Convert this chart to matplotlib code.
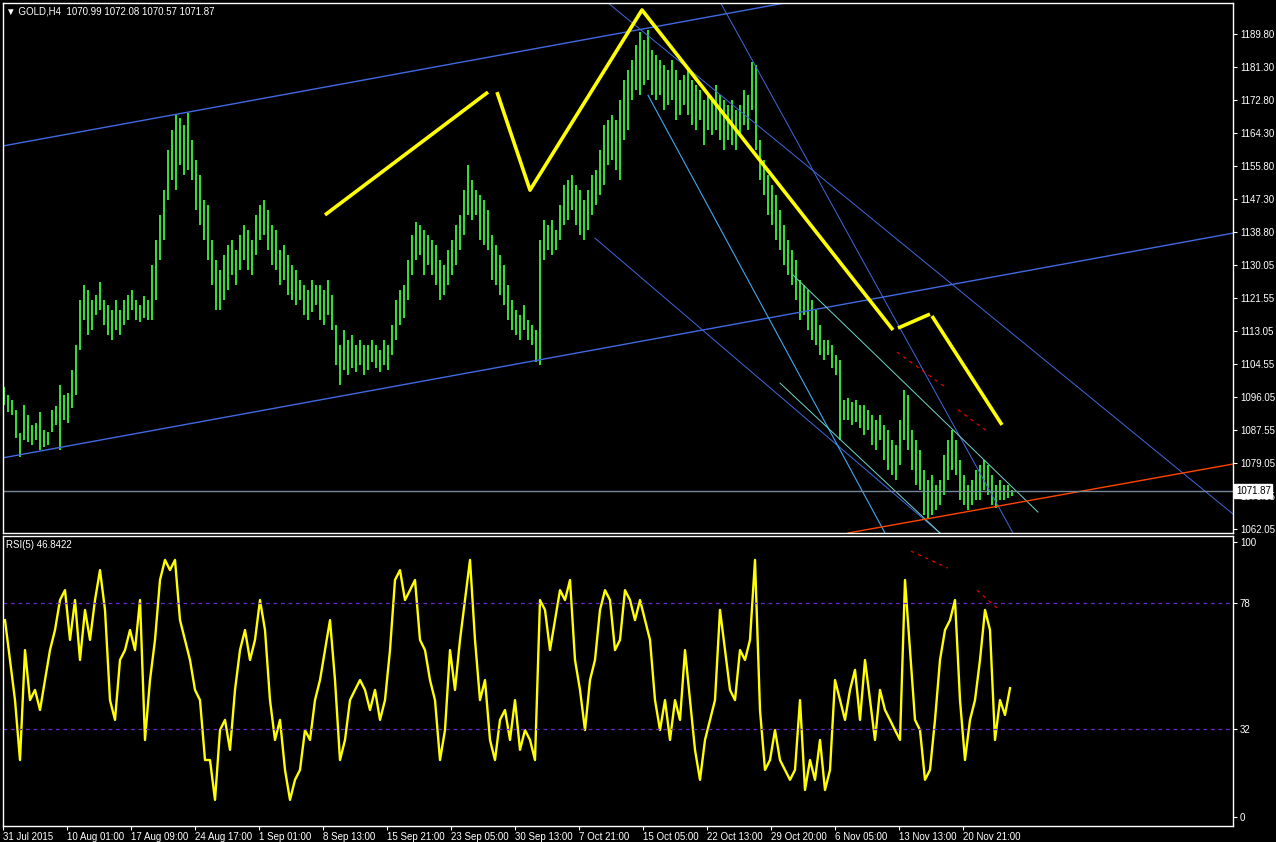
import numpy as np
import matplotlib.pyplot as plt

plt.rcParams['font.family'] = ['Liberation Sans', 'DejaVu Sans']

# H4 bars, one sample every 2 bars (high / low)
highs = [1098.7, 1096.7, 1095.4, 1092.8, 1086.8, 1094.1, 1091.5, 1088.9, 1089.4, 1092.3,
         1087.6, 1087.1, 1092.8, 1093.8, 1099.2, 1096.7, 1097.2, 1103.1, 1109.6, 1121.2,
         1125.0, 1123.8, 1121.2, 1122.5, 1125.8, 1121.2, 1119.9, 1118.6, 1121.2, 1118.6,
         1121.2, 1122.5, 1123.8, 1121.2, 1119.9, 1122.2, 1121.2, 1130.2, 1136.7, 1143.1,
         1149.6, 1159.9, 1165.0, 1168.9, 1168.1, 1166.3, 1169.4, 1162.5, 1157.3, 1153.4,
         1147.0, 1145.7, 1136.7, 1131.5, 1128.9, 1132.8, 1135.4, 1136.7, 1134.1, 1137.9,
         1140.5, 1139.2, 1136.7, 1143.1, 1145.7, 1147.0, 1144.4, 1140.5, 1139.2, 1134.1,
         1135.4, 1132.8, 1130.2, 1128.9, 1126.3, 1125.0, 1123.8, 1126.3, 1125.0, 1125.0,
         1123.8, 1126.3, 1122.5, 1114.7, 1109.6, 1113.4, 1110.8, 1112.1, 1109.6, 1110.8,
         1109.6, 1109.6, 1110.8, 1109.6, 1108.3, 1110.8, 1109.6, 1114.7, 1121.2, 1123.8,
         1125.0, 1131.5, 1137.9, 1141.3, 1140.5, 1139.2, 1137.9, 1136.7, 1135.4, 1131.5,
         1130.2, 1134.1, 1136.7, 1140.5, 1143.1, 1149.6, 1156.0, 1152.1, 1149.6, 1148.3,
         1147.0, 1144.4, 1137.9, 1135.4, 1132.8, 1130.2, 1125.0, 1121.2, 1118.6, 1117.3,
         1119.9, 1116.0, 1114.7, 1113.4, 1136.7, 1141.8, 1140.5, 1141.8, 1139.2, 1145.7,
         1150.9, 1152.1, 1153.4, 1150.9, 1149.6, 1147.0, 1149.6, 1153.4, 1154.7, 1159.9,
         1166.3, 1167.6, 1168.9, 1167.6, 1172.8, 1177.9, 1180.5, 1183.1, 1187.0, 1190.3,
         1188.3, 1190.9, 1185.7, 1184.4, 1183.1, 1181.8, 1180.5, 1183.1, 1180.5, 1177.9,
         1179.2, 1180.5, 1177.9, 1176.7, 1175.4, 1172.8, 1174.1, 1172.8, 1176.7, 1174.1,
         1172.8, 1171.5, 1172.8, 1170.2, 1171.5, 1175.4, 1174.1, 1182.6, 1181.8, 1162.5,
         1157.3, 1153.4, 1150.9, 1148.3, 1144.4, 1140.5, 1136.7, 1134.1, 1131.5, 1126.3,
         1125.0, 1123.8, 1121.2, 1118.6, 1114.7, 1110.8, 1110.8, 1109.6, 1107.0, 1105.7,
         1095.4, 1095.9, 1094.8, 1095.4, 1094.1, 1094.1, 1092.8, 1091.5, 1090.2, 1091.5,
         1088.9, 1087.6, 1085.0, 1083.7, 1090.2, 1097.9, 1096.7, 1087.6, 1085.0, 1082.4,
         1077.3, 1074.7, 1076.0, 1073.4, 1074.7, 1081.2, 1085.0, 1087.6, 1085.0, 1079.9,
         1076.0, 1073.4, 1074.7, 1077.3, 1078.6, 1079.9, 1078.6, 1076.0, 1073.4, 1074.7,
         1073.4, 1073.4, 1072.08]
lows = [1094.1, 1092.3, 1091.5, 1085.5, 1080.6, 1085.0, 1084.5, 1083.7, 1085.0, 1082.4,
        1083.2, 1083.7, 1087.1, 1088.9, 1082.4, 1090.2, 1089.4, 1093.3, 1096.7, 1108.3,
        1116.0, 1112.1, 1113.4, 1117.3, 1118.6, 1114.7, 1112.1, 1110.8, 1113.4, 1112.1,
        1114.7, 1116.0, 1118.6, 1116.0, 1115.5, 1116.5, 1116.0, 1116.0, 1121.2, 1131.5,
        1136.7, 1147.0, 1152.1, 1149.6, 1156.0, 1153.4, 1154.7, 1152.1, 1144.4, 1140.5,
        1136.7, 1131.5, 1125.0, 1118.6, 1118.6, 1121.2, 1123.8, 1127.6, 1125.0, 1128.9,
        1131.5, 1128.9, 1127.6, 1132.8, 1136.7, 1137.9, 1134.1, 1130.2, 1128.9, 1125.0,
        1126.3, 1122.5, 1121.2, 1119.9, 1121.2, 1117.3, 1116.0, 1118.1, 1119.9, 1116.0,
        1114.7, 1117.3, 1113.4, 1104.4, 1099.2, 1103.1, 1101.8, 1103.6, 1102.6, 1104.4,
        1101.8, 1103.1, 1105.2, 1103.6, 1102.6, 1104.4, 1103.1, 1107.0, 1110.8, 1114.7,
        1116.5, 1121.2, 1127.6, 1131.5, 1132.8, 1127.6, 1130.2, 1127.6, 1125.0, 1121.2,
        1122.5, 1125.0, 1127.6, 1130.2, 1134.1, 1137.9, 1143.1, 1141.8, 1143.1, 1136.7,
        1135.4, 1134.1, 1126.3, 1125.0, 1122.5, 1119.9, 1116.0, 1113.4, 1112.1, 1110.8,
        1113.4, 1110.8, 1109.6, 1105.2, 1104.4, 1131.5, 1134.1, 1132.8, 1134.1, 1136.7,
        1140.5, 1141.8, 1144.4, 1140.5, 1137.9, 1136.7, 1139.2, 1143.1, 1145.7, 1148.3,
        1150.9, 1156.0, 1157.3, 1154.7, 1152.1, 1162.5, 1165.0, 1172.8, 1175.4, 1174.1,
        1176.7, 1177.9, 1174.1, 1172.8, 1174.1, 1170.2, 1171.5, 1172.8, 1167.6, 1168.9,
        1171.5, 1168.9, 1166.3, 1165.0, 1167.6, 1161.2, 1165.0, 1163.8, 1165.0, 1162.5,
        1159.9, 1162.5, 1161.2, 1159.9, 1163.8, 1166.3, 1165.0, 1170.2, 1159.9, 1152.1,
        1148.3, 1143.1, 1140.5, 1136.7, 1134.1, 1130.2, 1127.6, 1125.0, 1121.2, 1116.0,
        1117.3, 1113.4, 1110.8, 1109.6, 1107.0, 1105.7, 1107.0, 1103.6, 1101.8, 1085.0,
        1090.2, 1090.2, 1088.9, 1089.7, 1088.1, 1086.3, 1087.6, 1083.7, 1082.4, 1085.0,
        1079.9, 1077.3, 1076.0, 1074.7, 1078.6, 1085.0, 1082.4, 1077.3, 1073.4, 1072.1,
        1065.7, 1064.9, 1065.7, 1067.0, 1068.3, 1070.8, 1074.7, 1077.3, 1076.0, 1069.5,
        1068.3, 1067.0, 1068.3, 1069.5, 1069.5, 1072.1, 1070.8, 1068.3, 1067.5, 1069.5,
        1069.5, 1070.1, 1070.57]

# RSI(5), one sample every 2.5 bars
rsi = [71.6, 57.1, 42.5, 20.7, 60.7, 42.5, 46.2, 38.9, 49.8, 60.7,
       68.0, 78.9, 82.5, 64.4, 78.9, 57.1, 75.3, 64.4, 78.9, 89.8,
       75.3, 42.5, 35.3, 57.1, 60.7, 68.0, 60.7, 78.9, 28.0, 49.8,
       64.4, 86.2, 93.5, 89.8, 93.5, 71.6, 64.4, 57.1, 46.2, 42.5,
       20.7, 20.7, 6.2, 31.6, 35.3, 24.4, 46.2, 60.7, 68.0, 57.1,
       64.4, 78.9, 68.0, 42.5, 28.0, 35.3, 17.1, 6.2, 13.5, 17.1,
       31.6, 28.0, 42.5, 49.8, 60.7, 71.6, 49.8, 20.7, 28.0, 42.5,
       46.2, 49.8, 46.2, 38.9, 46.2, 35.3, 42.5, 60.7, 86.2, 89.8,
       78.9, 82.5, 86.2, 64.4, 60.7, 49.8, 42.5, 20.7, 31.6, 60.7,
       46.2, 64.4, 78.9, 93.5, 64.4, 42.5, 49.8, 28.0, 20.7, 35.3,
       38.9, 28.0, 42.5, 24.4, 31.6, 28.0, 20.7, 78.9, 75.3, 60.7,
       71.6, 82.5, 78.9, 86.2, 57.1, 46.2, 31.6, 49.8, 57.1, 75.3,
       82.5, 78.9, 60.7, 64.4, 82.5, 78.9, 71.6, 78.9, 71.6, 64.4,
       42.5, 31.6, 42.5, 28.0, 42.5, 35.3, 60.7, 42.5, 24.4, 13.5,
       28.0, 35.3, 42.5, 75.3, 60.7, 46.2, 42.5, 60.7, 57.1, 64.4,
       93.5, 38.9, 17.1, 20.7, 31.6, 20.7, 17.1, 13.5, 17.1, 42.5,
       9.8, 20.7, 13.5, 28.0, 9.8, 17.1, 49.8, 42.5, 35.3, 46.2,
       53.5, 35.3, 57.1, 42.5, 28.0, 46.2, 38.9, 35.3, 31.6, 28.0,
       86.2, 60.7, 35.3, 31.6, 13.5, 17.1, 35.3, 57.1, 68.0, 71.6,
       78.9, 42.5, 20.7, 35.3, 42.5, 57.1, 75.3, 68.0, 28.0, 42.5,
       37.1, 46.8422]

price_ticks = [1189.80, 1181.30, 1172.80, 1164.30, 1155.80, 1147.30, 1138.80, 1130.05,
               1121.55, 1113.05, 1104.55, 1096.05, 1087.55, 1079.05, 1070.55, 1062.05]
rsi_ticks = [100, 78, 32, 0]
rsi_levels = [78, 32]
date_labels = ['31 Jul 2015', '10 Aug 01:00', '17 Aug 09:00', '24 Aug 17:00', '1 Sep 01:00',
               '8 Sep 13:00', '15 Sep 21:00', '23 Sep 05:00', '30 Sep 13:00', '7 Oct 21:00',
               '15 Oct 05:00', '22 Oct 13:00', '29 Oct 20:00', '6 Nov 05:00', '13 Nov 13:00',
               '20 Nov 21:00']
ohlc = [1070.99, 1072.08, 1070.57, 1071.87]
last_price = 1071.87
rsi_last = 46.8422

# drawn objects: (bar1, price1, bar2, price2)
channel_lines = [(-0.5, 1160.9, 390.5, 1197.8), (-0.5, 1080.4, 614.5, 1138.4)]
blue_full = [(302.0, 1197.8, 614.5, 1065.9), (357.5, 1198.6, 504.5, 1061.0)]
blue_rays = [(295.5, 1137.1, 468.0, 1061.0)]
sky_rays = [(322.0, 1174.0, 440.5, 1061.0)]
teal_segs = [(394.5, 1127.6, 517.0, 1066.4), (388.0, 1099.7, 468.0, 1061.0)]
support_line = (422.0, 1061.0, 614.5, 1078.8)
yellow_paths = [
    ([160.5, 242.0], [1143.1, 1174.8]),
    ([246.5, 263.0, 319.0, 444.5], [1174.8, 1149.5, 1196.0, 1113.4]),
    ([447.0, 463.0], [1113.9, 1117.5]),
    ([464.0, 499.0], [1117.0, 1088.9]),
]
red_dash_price = [(446.5, 1107.7, 470.5, 1098.7), (477.0, 1092.8, 492.0, 1087.1)]
red_dash_rsi = [(453.5, 96.7, 472.0, 90.5), (486.5, 82.5, 496.5, 76.0)]

W, H = 1276, 842
fig = plt.figure(figsize=(W / 100, H / 100), dpi=100, facecolor='black')
ax = fig.add_axes([3 / W, 1 - 533 / H, 1230 / W, 530 / H])
ax2 = fig.add_axes([3 / W, 1 - 826 / H, 1230 / W, 290 / H])

for a in (ax, ax2):
    a.set_facecolor('black')
    a.set_xlim(-0.5, 614.5)
    for s in a.spines.values():
        s.set_color('white')
        s.set_linewidth(1.0)
    a.yaxis.tick_right()
    a.tick_params(axis='y', colors='white', direction='out', length=3, width=0.8,
                  labelsize=7, pad=2)

ax.set_ylim(1061.0, 1197.8)
ax2.set_ylim(-3.3, 102.2)

bar_x = np.arange(len(highs)) * 2
ax.vlines(bar_x, lows, highs, color='#33dd33', lw=1.44)

def ray(x1, y1, x2, y2, to=700):
    k = (y2 - y1) / (x2 - x1)
    return [x1, to], [y1, y1 + k * (to - x1)]

for x1, y1, x2, y2 in channel_lines:
    ax.axline((x1, y1), (x2, y2), color='#4169e1', lw=1.0)
for x1, y1, x2, y2 in blue_full:
    ax.axline((x1, y1), (x2, y2), color='#4169e1', lw=0.7)
for x1, y1, x2, y2 in blue_rays:
    ax.plot(*ray(x1, y1, x2, y2), color='#4169e1', lw=0.7)
for x1, y1, x2, y2 in sky_rays:
    ax.plot(*ray(x1, y1, x2, y2), color='#3fa8f0', lw=0.8)
for x1, y1, x2, y2 in teal_segs:
    ax.plot([x1, x2], [y1, y2], color='#70d8c8', lw=0.7)
ax.axline(support_line[:2], support_line[2:], color='#ff4500', lw=1.0)
for xs, ys in yellow_paths:
    ax.plot(xs, ys, color='yellow', lw=2.6, solid_capstyle='butt')
for x1, y1, x2, y2 in red_dash_price:
    ax.plot([x1, x2], [y1, y2], color='red', lw=0.8, ls=(0, (3, 4)))

ax.axhline(last_price, color='#778899', lw=1.0)

ax.set_yticks(price_ticks)
ax.set_yticklabels([f'{v:.2f}' for v in price_ticks])
ax.set_xticks([])
ax.text(1.0024, last_price, f'{last_price:.2f}', transform=ax.get_yaxis_transform(),
        fontsize=7, color='black', ha='left', va='center', zorder=10, clip_on=False,
        bbox=dict(facecolor='white', edgecolor='white', pad=1.2))

# RSI panel
rsi_x = (np.arange(len(rsi)) * 5 + 1) / 2
ax2.plot(rsi_x, rsi, color='yellow', lw=1.7)
for lv in rsi_levels:
    ax2.axhline(lv, color='#6a28c8', lw=0.9, ls=(0, (3, 3)))
for x1, y1, x2, y2 in red_dash_rsi:
    ax2.plot([x1, x2], [y1, y2], color='red', lw=0.8, ls=(0, (3, 4)))
ax2.set_yticks(rsi_ticks)
ax2.set_yticklabels([str(v) for v in rsi_ticks])

date_x = np.arange(len(date_labels)) * 32 - 0.5
ax2.set_xticks(date_x)
ax2.set_xticklabels(date_labels, ha='left')
ax2.tick_params(axis='x', colors='white', direction='out', length=3, width=0.8,
                labelsize=7, pad=1)

fig.text(6 / W, 1 - 11 / H, '\u25bc GOLD,H4  ' + ' '.join(f'{v:.2f}' for v in ohlc),
         color='white', fontsize=7, va='center', ha='left', family=['Liberation Sans', 'DejaVu Sans'])
fig.text(6 / W, 1 - 545 / H, f'RSI(5) {rsi_last:.4f}', color='white', fontsize=7,
         va='center', ha='left')

fig.savefig('out.png', dpi=100, facecolor='black')
